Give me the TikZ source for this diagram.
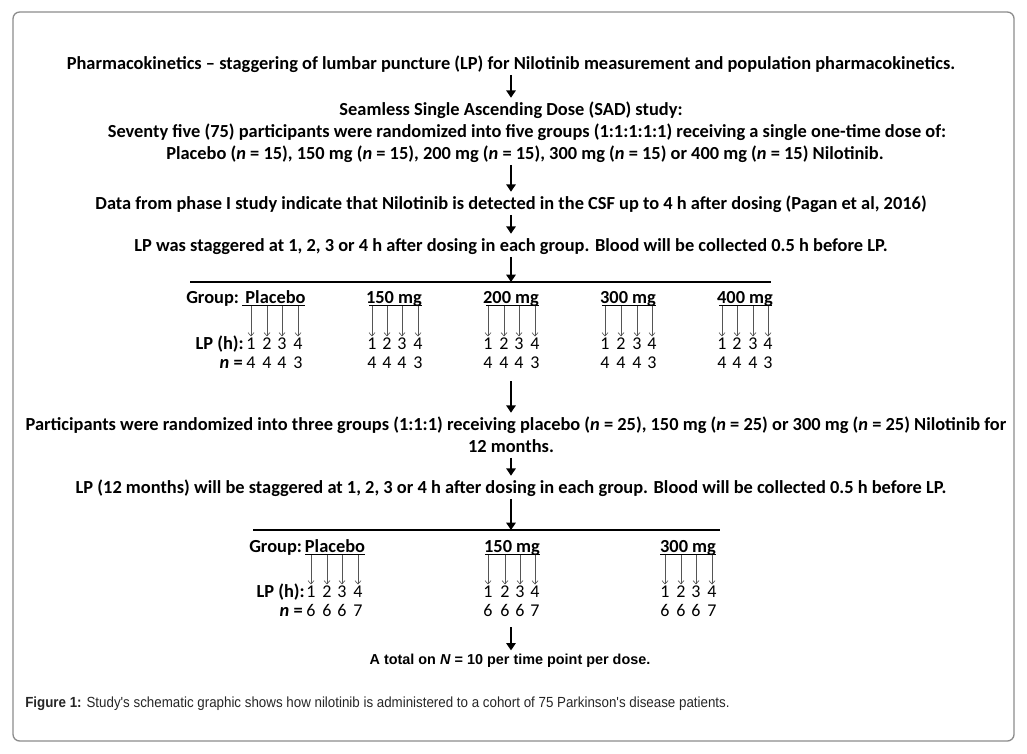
\documentclass[tikz,border=0pt]{standalone}
\usepackage{fontspec}
\setmainfont{Carlito}
\newfontfamily\capfont{Liberation Sans}[FakeStretch=0.91]
\newfontfamily\arialfont{Liberation Sans}
\usetikzlibrary{arrows.meta}
\definecolor{framegray}{HTML}{8C8C8C}
\definecolor{thin}{HTML}{555555}
\tikzset{
  main/.style={font=\fontsize{13.8pt}{16pt}\selectfont\bfseries, inner sep=0pt, text height=11pt, text depth=0pt},
  grp/.style={font=\fontsize{13.8pt}{16pt}\selectfont\bfseries, inner sep=0pt, text depth=1.9pt, anchor=base},
  num/.style={font=\fontsize{13.5pt}{16pt}\selectfont, inner sep=0pt, anchor=base},
  lbl/.style={font=\fontsize{13.8pt}{16pt}\selectfont\bfseries, inner sep=0pt, anchor=base east},
  big/.style={line width=1.3pt, -{Triangle[width=7pt,length=5.5pt]}, shorten <=4pt, shorten >=2pt},
  small/.style={draw=thin, line width=0.5pt, -{Straight Barb[length=2.5pt,width=4.5pt]}, shorten >=0.5pt},
  under/.style={line width=0.8pt},
}
\begin{document}
\begin{tikzpicture}[x=0.75pt,y=-0.75pt]
\useasboundingbox (0,0) rectangle (1027,753);
\draw[framegray, line width=1pt, rounded corners=5pt] (13,12) rectangle (1014,741);
\coordinate (ax) at (511,0);

\node[main] (t1) at (511,62) {Pharmacokinetics – staggering of lumbar puncture (LP) for Nilotinib measurement and population pharmacokinetics.};
\node[main] (t2) at (511,108) {Seamless Single Ascending Dose (SAD) study:};
\node[main] (t3) at (527,130) {Seventy five (75) participants were randomized into five groups (1:1:1:1:1) receiving a single one-time dose of:};
\node[main] (t4) at (525,152) {Placebo (\textit{n} = 15), 150 mg (\textit{n} = 15), 200 mg (\textit{n} = 15), 300 mg (\textit{n} = 15) or 400 mg (\textit{n} = 15) Nilotinib.};
\node[main] (t5) at (511,202) {Data from phase I study indicate that Nilotinib is detected in the CSF up to 4 h after dosing (Pagan et al, 2016)};
\node[main] (t6) at (511,244) {LP was staggered at 1, 2, 3 or 4 h after dosing in each group. Blood will be collected 0.5 h before LP.};
\node[main] (t7) at (516,423) {Participants were randomized into three groups (1:1:1) receiving placebo (\textit{n} = 25), 150 mg (\textit{n} = 25) or 300 mg (\textit{n} = 25) Nilotinib for};
\node[main] (t8) at (511,445) {12 months.};
\node[main] (t9) at (511,486) {LP (12 months) will be staggered at 1, 2, 3 or 4 h after dosing in each group. Blood will be collected 0.5 h before LP.};
\node[main, font=\arialfont\fontsize{10.8pt}{12pt}\selectfont\bfseries, text height=8.5pt, text depth=0pt] (t10) at (510,659) {A total on \textit{N} = 10 per time point per dose.};

% horizontal lines
\coordinate (h1) at (511,282);
\coordinate (h2) at (511,530);
\coordinate (g1end) at (511,376);
\coordinate (g2end) at (511,622);
\draw[line width=1pt] (190,282) -- (771,282);
\draw[line width=1pt] (253,530) -- (720,530);

% main arrows
\draw[big] (t1.south -| ax) -- (t2.north -| ax);
\draw[big] (t4.south -| ax) -- (t5.north -| ax);
\draw[big] (t5.south -| ax) -- (t6.north -| ax);
\draw[big, shorten >=0pt] (t6.south -| ax) -- (h1);
\draw[big] (g1end) -- (t7.north -| ax);
\draw[big] (t8.south -| ax) -- (t9.north -| ax);
\draw[big, shorten >=0pt] (t9.south -| ax) -- (h2);
\draw[big] (g2end) -- (t10.north -| ax);

% ---------- group block 1 ----------
\node[grp, anchor=base west] (G1) at (186,303) {Group:};
\node[lbl] (LP1) at (244,349) {LP (h):};
\node[lbl] (N1) at (243,368) {\textit{n} =};
\foreach \name/\cx/\ul/\ur/\lab/\xa/\xb/\xc/\xd in {
  a/275.5/242/305/Placebo/251/267/282/298,
  b/394/369/422/150 mg/372/387/402/418,
  c/511/486/539/200 mg/488/504/519/535,
  d/628/602/656/300 mg/605/621/637/652,
  e/745/719/772/400 mg/722/737/753/768}{
  \node[grp] (L\name) at (\cx,303) {\lab};
  \coordinate (U\name l) at (\ul,0);
  \coordinate (U\name r) at (\ur,0);
  \draw[under] (L\name.south -| U\name l) -- (L\name.south -| U\name r);
  \foreach \k/\xx/\nn in {1/\xa/4,2/\xb/4,3/\xc/4,4/\xd/3}{
    \node[num] (p\name\k) at (\xx,349) {\k};
    \node[num] (n\name\k) at (\xx,368) {\nn};
    \draw[small] (p\name\k |- L\name.south) -- (p\name\k.north);
  }
}

% ---------- group block 2 ----------
\node[grp, anchor=base west] (G2) at (249,552) {Group:};
\node[lbl] (LP2) at (305,597) {LP (h):};
\node[lbl] (N2) at (303,616) {\textit{n} =};
\foreach \name/\cx/\ul/\ur/\lab/\xa/\xb/\xc/\xd in {
  f/335/305/365/Placebo/311/327/342/358,
  g/512/485/540/150 mg/488/505/520/535,
  h/688/660/716/300 mg/665/681/696/712}{
  \node[grp] (L\name) at (\cx,552) {\lab};
  \coordinate (U\name l) at (\ul,0);
  \coordinate (U\name r) at (\ur,0);
  \draw[under] (L\name.south -| U\name l) -- (L\name.south -| U\name r);
  \foreach \k/\xx/\nn in {1/\xa/6,2/\xb/6,3/\xc/6,4/\xd/7}{
    \node[num] (p\name\k) at (\xx,597) {\k};
    \node[num] (n\name\k) at (\xx,616) {\nn};
    \draw[small] (p\name\k |- L\name.south) -- (p\name\k.north);
  }
}

% caption
\node[anchor=west, inner sep=0pt, font=\capfont\fontsize{11pt}{13pt}\selectfont, text=black!85] (cap) at (25,704) {\textbf{Figure 1:} Study's schematic graphic shows how nilotinib is administered to a cohort of 75 Parkinson's disease patients.};
\end{tikzpicture}
\end{document}
